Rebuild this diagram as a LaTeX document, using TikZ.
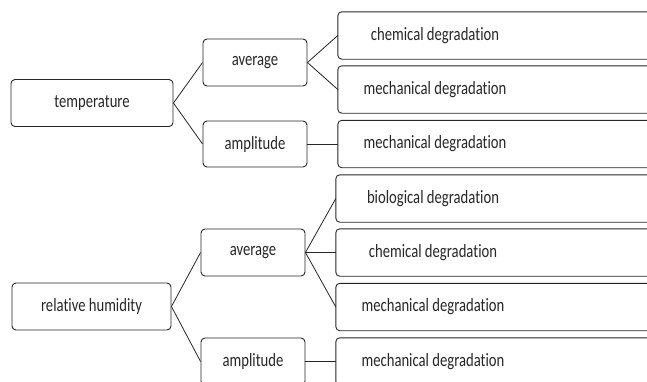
\documentclass[tikz,border=0pt]{standalone}
\usepackage{fontspec}
\setmainfont[FakeStretch=0.78,Ligatures=NoCommon,Contextuals=NoAlternate]{Carlito}
\begin{document}
\begin{tikzpicture}[x=1pt,y=-1pt,
  box/.style={draw=black!85, line width=0.9pt, rounded corners=4pt, inner sep=0pt, minimum height=47pt, text=black!85, font=\fontsize{18.8}{22}\selectfont},
  leaf/.style={inner sep=0pt, minimum height=47pt, minimum width=194pt, text=black!85, font=\fontsize{18.8}{22}\selectfont},
  link/.style={draw=black!85, line width=0.8pt}]
\useasboundingbox (0,0) rectangle (647,381);
\clip (0,0) rectangle (647,381);
% level 0
\node[box, minimum width=162pt] (T) at (92,103) {temperature};
\node[box, minimum width=159pt] (H) at (91.5,306.5) {relative humidity};
% level 1
\node[box, minimum width=104pt] (A1) at (255,62.5) {average};
\node[box, minimum width=104pt, minimum height=46pt] (P1) at (255,144) {amplitude};
\node[box, minimum width=104pt] (A2) at (253,252.5) {average};
\node[box, minimum width=104pt] (P2) at (253,361.5) {amplitude};
% leaves
\node[leaf] (R1) at (435,35.5) {chemical degradation};
\node[leaf] (R2) at (435,89.5) {mechanical degradation};
\node[leaf] (R3) at (435,144) {mechanical degradation};
\node[leaf] (R4) at (433,198.5) {biological degradation};
\node[leaf] (R5) at (433,252.5) {chemical degradation};
\node[leaf] (R6) at (433,307) {mechanical degradation};
\node[leaf] (R7) at (433,361.5) {mechanical degradation};
\foreach \n in {R1,R2,R3,R4,R5,R6,R7}{
  \draw[draw=black!85, line width=0.9pt, rounded corners=4pt] (\n.north west) rectangle ([xshift=160pt]\n.south east);
}
% connectors
\draw[link] (T.east) -- (A1.west);
\draw[link] (T.east) -- (P1.west);
\draw[link] (A1.east) -- (R1.west);
\draw[link] (A1.east) -- (R2.west);
\draw[link] (P1.east) -- (R3.west);
\draw[link] (H.east) -- (A2.west);
\draw[link] (H.east) -- (P2.west);
\draw[link] (A2.east) -- (R4.west);
\draw[link] (A2.east) -- (R5.west);
\draw[link] (A2.east) -- (R6.west);
\draw[link] (P2.east) -- (R7.west);
\end{tikzpicture}
\end{document}
